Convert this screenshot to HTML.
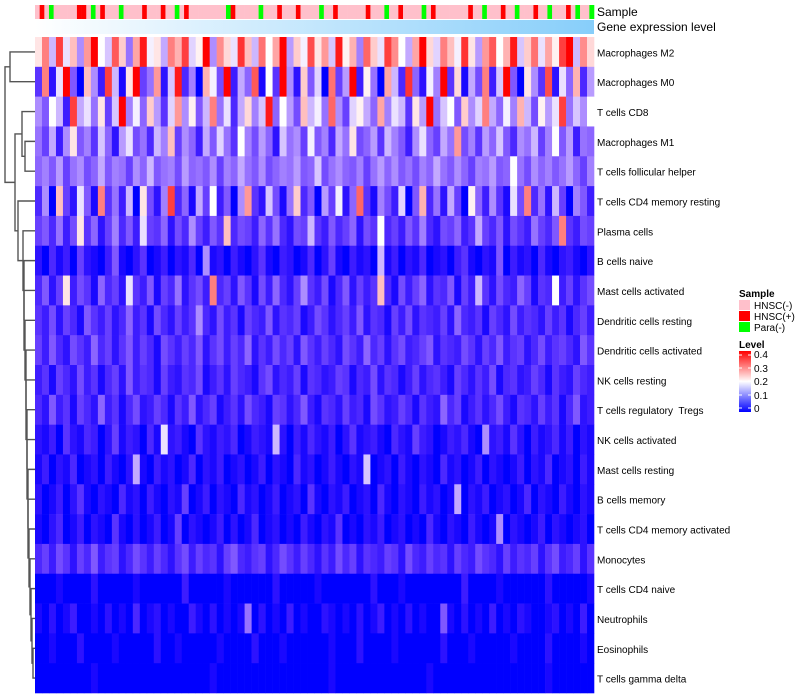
<!DOCTYPE html>
<html><head><meta charset="utf-8"><style>
body{margin:0;background:#fff;}
svg{display:block;font-family:"Liberation Sans",sans-serif;}
</style></head><body>
<svg id="chart" width="800" height="700" viewBox="0 0 800 700">
<defs>
<linearGradient id="gexp" x1="0" x2="1" y1="0" y2="0"><stop offset="0" stop-color="#ffffff"/><stop offset="1" stop-color="#87cefa"/></linearGradient>
<linearGradient id="lvl" x1="0" x2="0" y1="1" y2="0"><stop offset="0" stop-color="#0000ff"/><stop offset="0.5" stop-color="#ffffff"/><stop offset="1" stop-color="#ff0000"/></linearGradient>
</defs>
<g id="sample-bar"></g>
<rect x="35" y="20" width="559" height="14" fill="url(#gexp)"/>
<text x="597" y="16" font-size="12">Sample</text>
<text x="597" y="31" font-size="12">Gene expression level</text>
<g id="cells"></g>
<g id="labels"></g>
<g id="dendro" stroke="#555" stroke-width="1.4" fill="none"></g>
<g font-size="10">
<text x="739" y="297" font-weight="bold">Sample</text>
<rect x="739" y="300" width="11" height="10" fill="#ffc0cb"/><text x="754" y="309">HNSC(-)</text>
<rect x="739" y="311" width="11" height="10" fill="#ff0000"/><text x="754" y="320">HNSC(+)</text>
<rect x="739" y="322" width="11" height="10" fill="#00ff00"/><text x="754" y="331">Para(-)</text>
</g>
<g font-size="10">
<text x="739" y="348" font-weight="bold">Level</text>
<rect x="739" y="351" width="12" height="61" fill="url(#lvl)"/>
<g stroke="#fff" stroke-width="1"><line x1="739" x2="742" y1="355" y2="355"/><line x1="748" x2="751" y1="355" y2="355"/><line x1="739" x2="742" y1="368" y2="368"/><line x1="748" x2="751" y1="368" y2="368"/><line x1="739" x2="742" y1="381" y2="381"/><line x1="748" x2="751" y1="381" y2="381"/><line x1="739" x2="742" y1="395" y2="395"/><line x1="748" x2="751" y1="395" y2="395"/><line x1="739" x2="742" y1="408" y2="408"/><line x1="748" x2="751" y1="408" y2="408"/></g>
<text x="754" y="358">0.4</text><text x="754" y="372">0.3</text><text x="754" y="385">0.2</text><text x="754" y="399">0.1</text><text x="754" y="412">0</text>
</g>
</svg>
<script>
const rowNames=["Macrophages M2","Macrophages M0","T cells CD8","Macrophages M1","T cells follicular helper","T cells CD4 memory resting","Plasma cells","B cells naive","Mast cells activated","Dendritic cells resting","Dendritic cells activated","NK cells resting","T cells regulatory  Tregs","NK cells activated","Mast cells resting","B cells memory","T cells CD4 memory activated","Monocytes","T cells CD4 naive","Neutrophils","Eosinophils","T cells gamma delta"];
const sampleGroups=[0,1,0,2,0,0,0,0,0,1,1,0,2,0,1,0,0,0,2,0,0,0,0,1,0,0,0,1,0,0,2,0,1,0,0,0,0,0,0,0,0,2,1,0,0,0,0,0,2,0,0,0,1,0,0,0,1,0,0,0,0,2,0,0,1,0,0,0,0,0,0,1,0,0,0,2,0,0,1,0,0,0,0,2,0,1,0,0,0,0,0,0,0,1,0,0,2,0,0,0,1,0,0,2,0,0,0,1,0,0,2,0,0,0,1,0,2,0,0,2];
const r0=[22,30,15,35,18,25,12,28,40,20,16,33,24,10,27,38,19,22,14,30,26,35,17,21,40,12,29,23,18,36,25,15,31,20,27,40,13,24,19,34,22,28,16,38,21,26,11,32,24,18,35,29,20,14,27,40,23,17,30,25,19,36,22,13,28,33,20,26,38,16,24,31,18,27,21,35,40,15,29,23];
const r1=[5,30,2,18,40,8,0,25,12,3,35,15,1,22,40,6,10,28,2,16,38,4,11,0,26,19,7,40,3,14,9,33,1,20,5,40,12,2,24,8,17,0,31,6,13,40,3,21,10,0,27,15,4,36,9,2,19,11,40,5,23,1,14,7,30,3,16,40,8,0,22,12,5,34,2,18,9,26,4,13];
const r2=[12,8,20,15,3,35,14,18,10,22,6,16,40,11,19,9,24,13,5,17,28,12,21,8,15,30,10,18,4,14,23,11,16,38,9,20,13,7,25,15,19,10,32,12,6,17,21,14,9,27,11,18,15,5,22,13,40,10,16,20,8,24,12,17,30,14,9,19,11,26,15,7,21,13,18,35,10,16,12,20];
const r3=[10,6,14,3,12,22,8,11,5,16,9,2,13,18,7,10,4,15,11,25,6,12,9,3,14,8,17,10,5,20,11,7,13,9,2,16,10,12,6,19,8,11,4,14,10,22,7,9,13,5,15,11,8,3,12,18,9,6,14,10,28,7,11,5,13,9,16,8,4,12,10,15,6,11,20,8,13,3,10,9];
const r4=[9,11,8,13,6,10,12,7,9,14,8,11,10,6,12,9,15,8,10,11,7,13,9,10,8,12,6,11,9,14,10,8,12,7,9,11,10,13,8,9,16,7,10,12,9,8,11,6,10,13,9,12,8,10,7,11,9,14,10,8,12,9,6,11,10,13,8,9,20,10,7,12,9,11,8,10,13,9,6,11];
const r5=[4,12,0,25,6,2,18,8,1,30,5,10,3,15,0,22,7,2,11,35,4,9,1,14,6,20,3,8,0,12,28,5,2,16,7,1,10,24,4,8,0,13,6,19,2,9,32,5,1,11,7,3,17,0,8,26,4,10,2,14,6,0,21,9,3,12,5,1,18,7,30,4,10,2,15,6,0,11,8,3];
const r6=[6,8,4,10,3,7,22,5,9,2,6,11,4,8,3,18,6,5,9,2,7,4,12,6,3,8,5,25,4,7,6,3,9,5,10,4,2,7,6,15,5,3,8,4,6,9,2,7,5,20,4,6,3,8,5,11,4,2,7,6,9,3,5,14,6,4,8,2,7,5,3,10,6,4,8,30,5,3,7,6];
const r7=[2,0,4,1,3,0,6,2,1,0,3,8,1,0,2,5,0,1,3,0,2,1,4,0,12,1,2,0,3,1,0,2,5,1,0,3,2,0,1,4,0,2,6,1,0,3,1,2,0,15,1,3,0,2,1,4,0,1,2,0,3,5,1,0,2,1,8,0,3,1,2,0,4,1,0,2,3,1,0,2];
const r8=[4,8,2,6,22,3,7,5,1,9,4,6,2,18,5,3,8,1,6,4,10,2,5,7,3,30,4,6,2,8,5,1,7,3,9,4,2,6,12,5,3,7,1,4,8,2,6,3,5,25,4,1,7,3,6,9,2,5,4,8,1,6,3,15,5,2,7,4,3,9,6,1,5,4,20,3,6,2,5,7];
const r9=[5,3,7,2,6,4,1,8,5,3,6,2,4,9,3,5,1,7,4,2,6,3,5,12,4,2,7,3,5,1,6,4,3,8,2,5,4,6,1,3,7,5,2,4,6,3,8,2,5,4,1,6,3,7,2,5,4,3,6,2,9,4,3,5,1,6,4,2,7,3,5,4,2,6,3,5,1,4,6,3];
const r10=[6,3,8,4,2,7,5,3,9,4,6,2,5,8,3,6,4,1,7,5,3,6,4,8,2,5,7,3,6,4,9,2,5,3,7,4,6,2,8,5,3,6,4,2,7,5,3,9,4,6,2,5,7,3,4,6,8,2,5,4,3,7,5,2,6,4,8,3,5,6,2,4,7,3,5,6,4,2,8,5];
const r11=[3,5,1,6,4,2,7,3,5,1,4,6,2,8,3,5,4,1,6,3,2,5,4,7,1,3,5,2,6,4,3,1,5,7,2,4,3,6,1,5,4,2,3,6,5,1,4,3,7,2,5,4,1,3,6,2,4,5,3,1,6,4,2,5,3,7,1,4,5,2,3,6,4,1,5,3,2,6,4,3];
const r12=[4,2,8,3,5,1,6,4,2,9,3,5,1,4,7,2,3,6,4,1,5,3,8,2,4,6,1,3,5,2,7,4,3,1,6,5,2,4,8,3,1,5,4,2,6,3,4,1,7,5,2,3,6,4,1,5,3,2,9,4,6,1,3,5,2,4,7,3,1,5,4,2,6,3,5,1,4,8,2,3];
const r13=[2,1,3,0,5,2,1,4,3,0,2,6,1,3,2,0,4,1,18,2,3,1,0,5,2,1,3,2,4,0,1,3,2,1,15,2,0,3,1,4,2,1,3,0,2,5,1,2,3,1,0,4,2,1,6,3,2,0,1,3,2,4,1,0,12,2,3,1,5,2,0,3,1,2,4,1,3,0,2,1];
const r14=[1,3,0,2,1,4,0,1,2,0,3,1,0,2,14,1,0,3,1,2,0,1,4,0,2,1,3,0,1,2,0,1,3,0,2,1,0,4,1,2,0,1,3,1,0,2,1,16,0,1,2,0,3,1,0,2,1,0,4,1,2,0,1,3,0,2,1,0,1,3,0,2,1,4,0,1,2,0,3,1];
const r15=[2,0,1,3,0,2,5,1,0,2,1,0,4,1,2,0,3,1,0,2,1,6,0,1,3,0,2,1,0,4,1,2,0,1,3,0,1,2,0,5,1,0,2,1,3,0,1,2,0,4,1,0,2,1,0,3,1,2,0,1,14,0,2,1,3,0,1,2,0,1,4,0,2,1,0,3,1,0,2,1];
const r16=[1,0,2,4,0,1,3,0,2,1,0,5,1,0,2,0,1,3,0,1,6,0,2,1,0,1,3,0,2,0,1,4,0,1,2,0,1,0,3,1,0,2,1,5,0,1,0,2,1,3,0,1,2,0,1,0,4,1,0,2,1,0,3,1,0,1,12,0,2,1,0,1,3,0,2,1,0,1,2,0];
const r17=[4,6,3,7,5,2,6,4,8,3,5,6,2,4,7,5,3,6,4,2,5,7,3,6,4,5,2,6,8,4,3,5,6,2,4,7,5,3,6,4,2,5,3,7,4,6,2,5,4,3,6,5,2,7,4,3,6,4,5,2,6,4,3,7,5,4,2,6,3,5,4,6,2,5,7,3,4,6,2,5];
const r18=[0,0,0,1,0,0,0,0,2,0,0,0,0,0,1,0,0,0,0,0,0,3,0,0,0,0,0,1,0,0,0,0,0,0,2,0,0,0,0,0,1,0,0,0,0,0,0,0,2,0,0,0,1,0,0,0,0,0,0,0,0,3,0,0,0,0,1,0,0,0,0,0,0,2,0,0,0,0,0,1];
const r19=[1,0,2,0,1,3,0,0,1,0,2,0,1,0,4,0,1,2,0,1,0,0,3,1,0,2,0,1,0,1,10,0,2,0,1,0,3,0,1,0,0,2,1,0,1,0,2,0,1,3,0,1,0,2,0,1,0,0,8,1,0,2,0,1,0,3,0,1,0,2,1,0,0,1,2,0,1,0,3,0];
const r20=[0,0,1,0,0,0,2,0,0,0,0,1,0,0,0,0,0,2,0,0,1,0,0,0,0,0,1,0,0,0,0,2,0,0,0,1,0,0,0,0,0,0,1,0,0,0,2,0,0,0,0,1,0,0,0,0,0,0,2,0,0,0,1,0,0,0,0,0,1,0,0,0,0,2,0,0,0,0,1,0];
const r21=[0,0,0,0,0,0,0,0,1,0,0,0,0,0,0,0,0,0,0,0,0,0,0,0,0,1,0,0,0,0,0,0,0,0,0,0,0,0,0,0,0,0,1,0,0,0,0,0,0,0,0,0,0,0,0,0,1,0,0,0,0,0,0,0,0,0,0,0,0,0,0,0,0,1,0,0,0,0,0,0];
const rowValues=[r0,r1,r2,r3,r4,r5,r6,r7,r8,r9,r10,r11,r12,r13,r14,r15,r16,r17,r18,r19,r20,r21];

const NS="http://www.w3.org/2000/svg";
const X0=35,X1=594,Y0=37,Y1=693;
const rowH=(Y1-Y0)/rowNames.length;
function yRow(i){return Y0+i*rowH;}
function color(v){
  v=Math.max(0,Math.min(0.4,v/100));
  let r,g,b;
  if(v<=0.2){const t=v/0.2;r=255*Math.pow(t,0.75);g=255*Math.pow(t,1.15);b=255;}
  else{const t=(v-0.2)/0.2;r=255;g=255*(1-t);b=255*(1-t);}
  return `rgb(${r|0},${g|0},${b|0})`;
}
const sampleColors=["#ffc0cb","#ff0000","#00ff00"];
const sb=document.getElementById('sample-bar');
const sw=(X1-X0)/sampleGroups.length;
sampleGroups.forEach((g,i)=>{
  const el=document.createElementNS(NS,'rect');
  el.setAttribute('x',X0+i*sw);el.setAttribute('y',5);
  el.setAttribute('width',sw+0.3);el.setAttribute('height',14);
  el.setAttribute('fill',sampleColors[g]);
  
  
  sb.appendChild(el);
});
const cells=document.getElementById('cells');
rowValues.forEach((row,ri)=>{
  const cw=(X1-X0)/row.length;
  row.forEach((v,ci)=>{
    const el=document.createElementNS(NS,'rect');
    el.setAttribute('x',X0+ci*cw);el.setAttribute('y',yRow(ri));
    el.setAttribute('width',cw+0.3);el.setAttribute('height',rowH+0.3);
    el.setAttribute('fill',color(v));
    
    
    cells.appendChild(el);
  });
});
const labels=document.getElementById('labels');
rowNames.forEach((n,i)=>{
  const t=document.createElementNS(NS,'text');
  t.setAttribute('x',597);t.setAttribute('y',yRow(i)+rowH/2+4.5);
  t.setAttribute('font-size','10');t.setAttribute('style','white-space:pre');t.textContent=n;
  
  
  labels.appendChild(t);
});
const dg=document.getElementById('dendro');
function leaf(i){return {x:X0,y:yRow(i)+rowH/2};}
function m(a,b,x){
  if(typeof a==='number')a=leaf(a);
  if(typeof b==='number')b=leaf(b);
  const p=document.createElementNS(NS,'path');
  p.setAttribute('d',`M${a.x},${a.y}H${x}V${b.y}H${b.x}`);
  
  
  dg.appendChild(p);
  return {x:x,y:(a.y+b.y)/2};
}
const nA=m(0,1,10);
const nB=m(2,m(3,4,25),22);
let c=m(20,21,33);
const chainX=[32,31,30,29,28,28,27,27,26,26,25,24,24,23];
for(let k=19,j=0;k>=6;k--,j++){c=m(k,c,chainX[j]);}
c=m(5,c,18);
const nR=m(nB,c,15);
m(nA,nR,5);
</script>
</body></html>
